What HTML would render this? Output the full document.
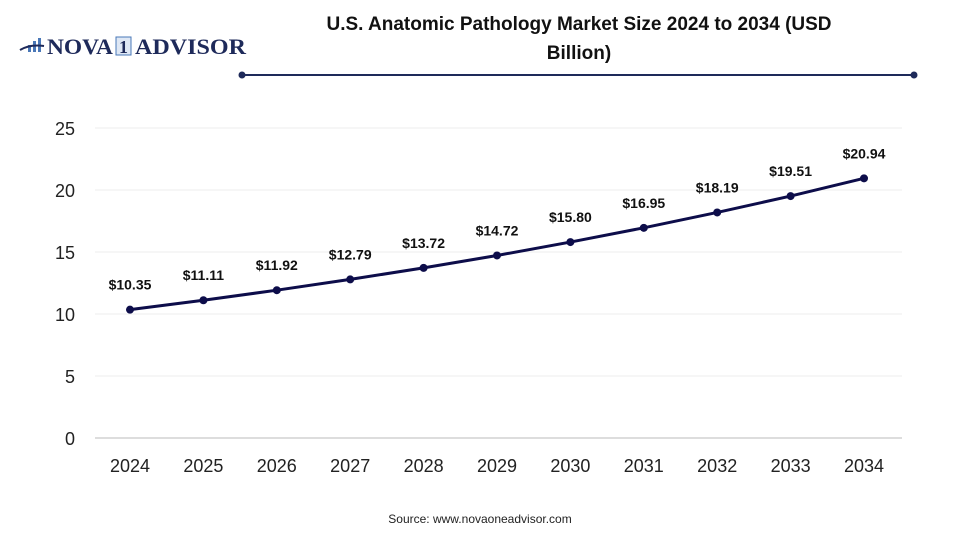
<!DOCTYPE html>
<html><head><meta charset="utf-8"><style>
body{margin:0;width:960px;height:540px;background:#fff;overflow:hidden;font-family:"Liberation Sans",Arial,sans-serif}
svg{display:block}
</style></head><body>
<svg id="c" width="960" height="540" viewBox="0 0 960 540">
<g>
<g fill="#4a78b8"><rect x="28" y="45" width="3" height="7"/><rect x="33" y="41" width="3" height="11"/><rect x="38" y="38" width="3" height="14"/></g>
<path d="M20 50 Q30 44 44 46" stroke="#1e2a5a" stroke-width="2" fill="none"/>
<text x="47" y="54" textLength="66" lengthAdjust="spacingAndGlyphs" font-family="Liberation Serif,serif" font-weight="bold" font-size="22" fill="#1e2a5a">NOVA</text>
<rect x="116" y="37" width="15" height="18" fill="#dfe8f5" stroke="#4a78b8" stroke-width="1"/>
<text x="123.5" y="53" text-anchor="middle" font-family="Liberation Serif,serif" font-weight="bold" font-size="18" fill="#1e2a5a">1</text>
<text x="135" y="54" textLength="111" lengthAdjust="spacingAndGlyphs" font-family="Liberation Serif,serif" font-weight="bold" font-size="22" fill="#1e2a5a">ADVISOR</text>
</g>
<text x="579" y="30" text-anchor="middle" font-weight="bold" font-size="19" fill="#111">U.S. Anatomic Pathology Market Size 2024 to 2034 (USD</text>
<text x="579" y="59" text-anchor="middle" font-weight="bold" font-size="19" fill="#111">Billion)</text>
<g>
<line x1="242" y1="75" x2="914" y2="75" stroke="#1e2a5a" stroke-width="2"/>
<circle cx="242" cy="75" r="3.5" fill="#1e2a5a"/><circle cx="914" cy="75" r="3.5" fill="#1e2a5a"/>
</g>
<g id="plot"></g>
<text x="480" y="523" text-anchor="middle" font-size="12" fill="#222">Source: www.novaoneadvisor.com</text>
</svg>
<script>
const years=["2024","2025","2026","2027","2028","2029","2030","2031","2032","2033","2034"];
const values=[10.35,11.11,11.92,12.79,13.72,14.72,15.80,16.95,18.19,19.51,20.94];
const labels=["$10.35","$11.11","$11.92","$12.79","$13.72","$14.72","$15.80","$16.95","$18.19","$19.51","$20.94"];
const yTicks=[0,5,10,15,20,25];
const NS="http://www.w3.org/2000/svg";
const g=document.getElementById('plot');
const y=v=>438-v*12.4;
const x=i=>130+i*73.4;
function mk(t,a){const e=document.createElementNS(NS,t);for(const k in a)e.setAttribute(k,a[k]);g.appendChild(e);return e;}
yTicks.forEach(t=>{
 if(t>0){const l=mk('line',{x1:95,x2:902,y1:y(t),y2:y(t),stroke:'#ececec','stroke-width':1});
 
 }
 const tx=mk('text',{x:75,y:y(t)+7,'text-anchor':'end','font-size':18,fill:'#222'});tx.textContent=t;
 
 
});
const ax=mk('line',{x1:95,x2:902,y1:438,y2:438,stroke:'#bbb','stroke-width':1});


years.forEach((yr,i)=>{const t=mk('text',{x:x(i),y:472,'text-anchor':'middle','font-size':18,fill:'#222'});t.textContent=yr;
 
 });
const ln=mk('polyline',{points:values.map((v,i)=>x(i)+','+y(v)).join(' '),fill:'none',stroke:'#0d0d4a','stroke-width':3});


values.forEach((v,i)=>{
 const c=mk('circle',{cx:x(i),cy:y(v),r:4,fill:'#0d0d4a'});
 
 
 const t=mk('text',{x:x(i),y:y(v)-20,'text-anchor':'middle','font-size':14,'font-weight':'bold',fill:'#111'});t.textContent=labels[i];
 
 
});
</script>
</body></html>
